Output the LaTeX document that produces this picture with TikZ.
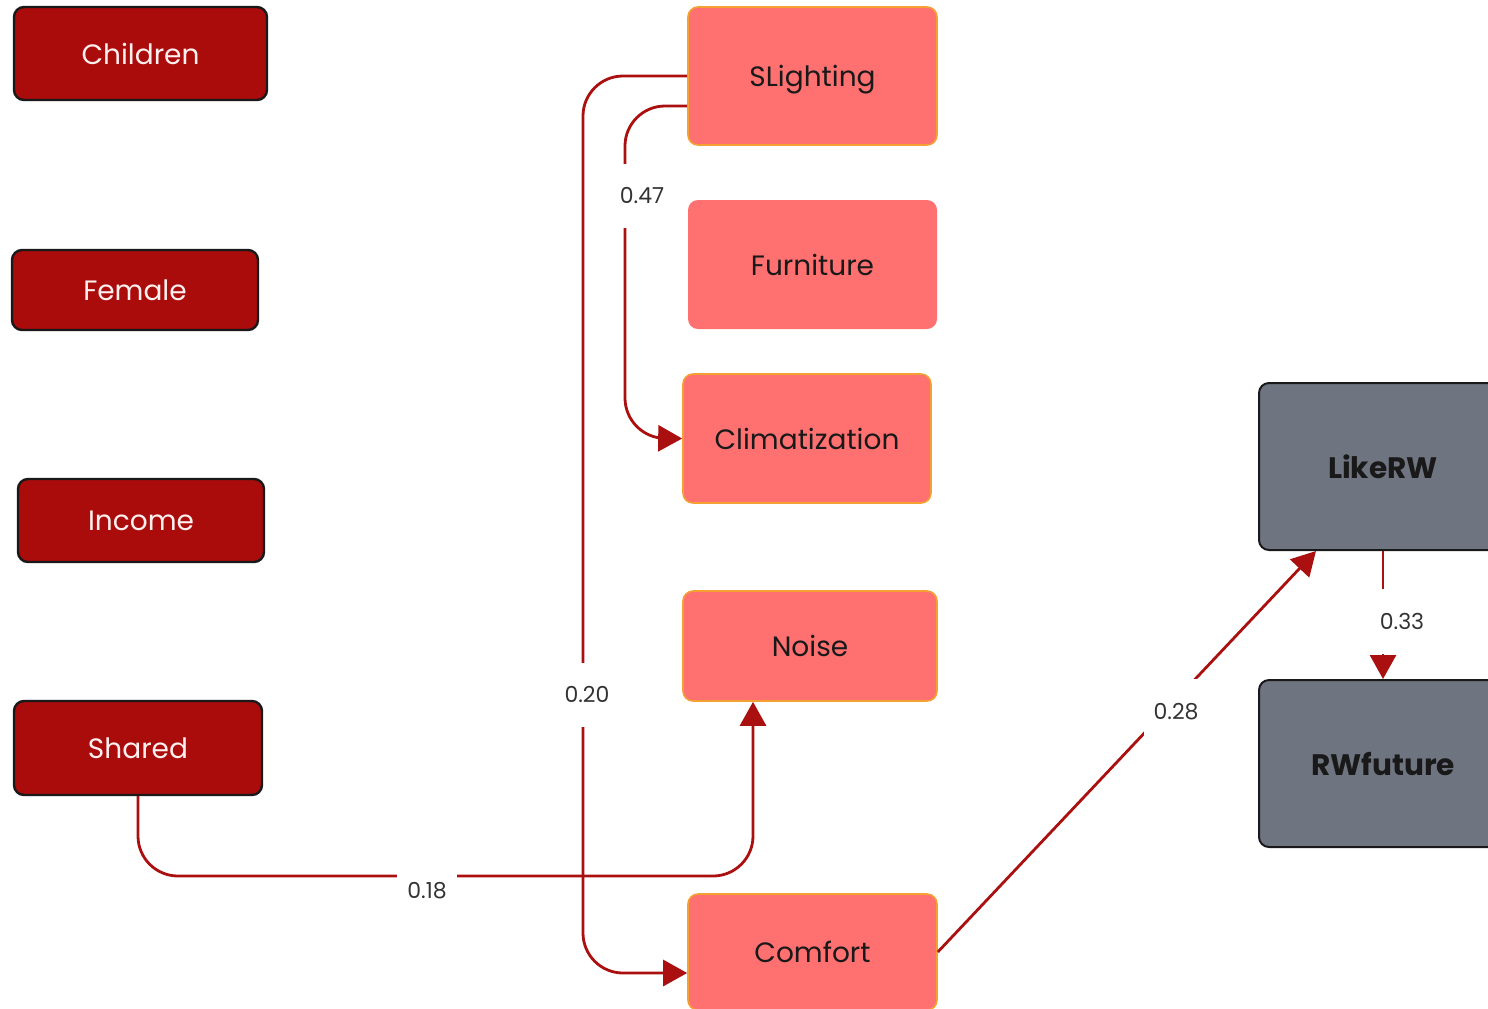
\documentclass[tikz,border=0pt]{standalone}
\usepackage{fontspec}
\setmainfont{Poppins}
\usetikzlibrary{arrows.meta}
\definecolor{demored}{HTML}{AA0C0C}
\definecolor{factorpink}{HTML}{FF7070}
\definecolor{factorline}{HTML}{F5A033}
\definecolor{outgray}{HTML}{6E7480}
\definecolor{linkred}{HTML}{AA1010}
\tikzset{
  demo/.style={draw=black!90, line width=1.2pt, fill=demored, text=white!94!red,
    rounded corners=5pt, inner sep=0pt, text depth=0pt, font=\fontsize{14}{16}\selectfont},
  factor/.style={draw=factorline, line width=0.8pt, fill=factorpink, text=black!90,
    rounded corners=5pt, inner sep=0pt, text depth=0pt, font=\fontsize{14}{16}\selectfont},
  outcome/.style={draw=black!90, line width=1pt, fill=outgray, text=black!90,
    rounded corners=5pt, inner sep=0pt, text depth=0pt, font=\fontsize{14.8}{17}\selectfont\bfseries},
  link/.style={draw=linkred, line width=1.4pt, rounded corners=20pt,
    -{Triangle[length=12pt,width=13pt]}},
  wlabel/.style={fill=white, sharp corners, inner xsep=5pt, inner ysep=12pt, text=black!80,
    font=\fontsize{11}{13}\selectfont}
}
\begin{document}
\begin{tikzpicture}[x=0.5pt,y=-0.5pt]
    \useasboundingbox (0,0) rectangle (1488,1008);
    % socio-demographic variables
    \node[demo, minimum width=126.5pt, minimum height=46.5pt] (children) at (140.5,53.5) {Children};
    \node[demo, minimum width=123pt, minimum height=40pt] (female) at (135,290) {Female};
    \node[demo, minimum width=123pt, minimum height=41.5pt] (income) at (141,520.5) {Income};
    \node[demo, minimum width=124pt, minimum height=47pt] (shared) at (138,748) {Shared};
    % workspace factors
    \node[factor, minimum width=124.5pt, minimum height=69pt] (slight) at (812.5,76) {SLighting};
    \node[factor, minimum width=124.5pt, minimum height=64.5pt, draw=none] (furniture) at (812.5,264.5) {Furniture};
    \node[factor, minimum width=124pt, minimum height=64.5pt] (clim) at (807,438.5) {Climatization};
    \node[factor, minimum width=127pt, minimum height=55pt] (noise) at (810,646) {Noise};
    \node[factor, minimum width=124.5pt, minimum height=58pt] (comfort) at (812.5,952) {Comfort};
    % outcomes
    \node[outcome, minimum width=124pt, minimum height=83.5pt] (likerw) at (1383,466.5) {LikeRW};
    \node[outcome, minimum width=124pt, minimum height=83.5pt] (rwfuture) at (1383,763.5) {RWfuture};
    % paths
    \draw[link] (slight.west) -- (583,76) -- node[wlabel,pos=.69,xshift=2pt] {0.20} (583,973)
        -- ([yshift=-10.5pt]comfort.west);
    \draw[link] ([yshift=-15pt]slight.west) -- (625,106) -- node[wlabel,pos=.27,xshift=8.5pt] {0.47} (625,438)
        -- (clim.west);
    \draw[link] (shared.south) -- (138,876) -- node[wlabel,pos=.47,yshift=-7.5pt] {0.18} (753,876)
        -- ([xshift=-28.5pt]noise.south);
    \draw[link] (comfort.east) -- node[wlabel,pos=.63,yshift=-6pt] {0.28} ([xshift=-33.5pt]likerw.south);
    \draw[link] (likerw.south) -- node[wlabel,pos=.55,xshift=9.5pt] {0.33} (rwfuture.north);
\end{tikzpicture}
\end{document}
